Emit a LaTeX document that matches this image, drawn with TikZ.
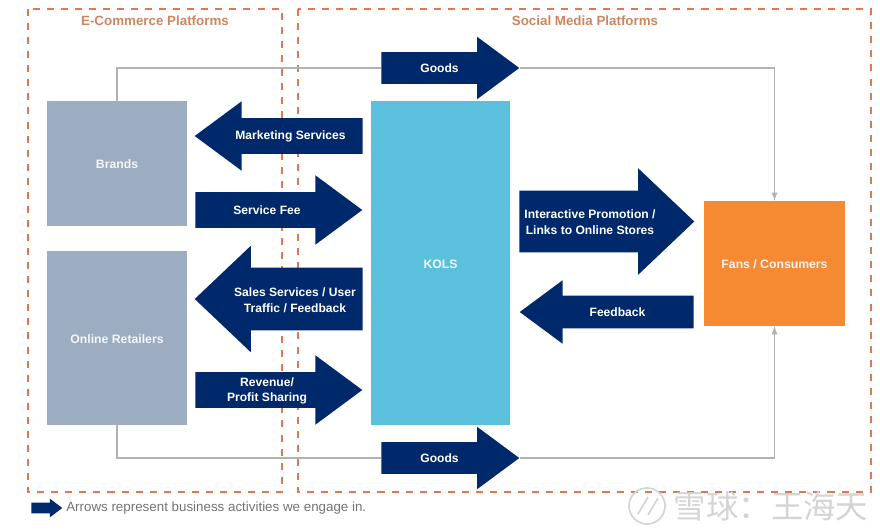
\documentclass[tikz,border=0pt]{standalone}
\usepackage{fontspec}
\setmainfont{Liberation Sans}
\newfontfamily\cjkfont{Noto Sans CJK SC}
\usetikzlibrary{shapes.arrows}

\definecolor{navy}{HTML}{00296B}
\definecolor{slate}{HTML}{9DADC1}
\definecolor{sky}{HTML}{5BC0DB}
\definecolor{amber}{HTML}{F58A32}
\definecolor{rust}{HTML}{DB7A50}
\definecolor{rusttext}{HTML}{CF8560}
\definecolor{wire}{HTML}{B2B2B2}
\definecolor{stamp}{HTML}{D4D4D4}

\tikzset{
  % length, shaft, head extend, tip angle
  bizarrow/.style n args={4}{single arrow, fill=navy, inner sep=0pt,
    minimum height=#1*0.025cm, text height=#2*0.025cm, text depth=0pt,
    single arrow head extend=#3*0.025cm, single arrow tip angle=#4},
  bizlabel/.style={text=white, font=\fontsize{8.6}{11}\selectfont\bfseries, align=center, inner sep=0pt},
  party/.style={font=\fontsize{8.7}{10}\selectfont\bfseries, text=white!88!slate, inner sep=0pt},
  platform/.style={draw=rust, line width=1.5pt, dash pattern=on 5pt off 5pt},
  platformtitle/.style={text=rusttext, font=\fontsize{9.5}{11}\selectfont\bfseries, inner sep=0pt},
  goodsline/.style={draw=wire, line width=1pt}
}

\begin{document}
\begin{tikzpicture}[x=0.025cm,y=-0.025cm]
  \useasboundingbox (0,0) rectangle (880,529);

  % platform frames
  \draw[platform] (28,9) rectangle (282,492);
  \draw[platform] (298,9) rectangle (871,492);
  \node (ecommerce) at (155,21) [platformtitle] {E-Commerce Platforms};
  \node (social)    at (585,21) [platformtitle] {Social Media Platforms};

  % parties
  \node (brands)   at (117,163.5) [fill=slate, minimum width=3.5cm, minimum height=3.125cm, inner sep=0pt] {};
  \node (retailers) at (117,338)  [fill=slate, minimum width=3.5cm, minimum height=4.35cm, inner sep=0pt] {};
  \node (kols)     at (440.5,263) [fill=sky, minimum width=3.475cm, minimum height=8.1cm, inner sep=0pt] {};
  \node (fans)     at (774.5,263.5) [fill=amber, minimum width=3.525cm, minimum height=3.125cm, inner sep=0pt] {};
  \node at (117,164)     [party] {Brands};
  \node at (117,339)     [party] {Online Retailers};
  \node at (440.5,264)   [party] {KOLS};
  \node at (774.5,264)   [party] {Fans / Consumers};

  % activity arrows
  \node (goodstop)  at (381,68)  [bizarrow={138}{31}{15.5}{73}, anchor=tail] {};
  \node (marketing) at (363,136) [bizarrow={168}{35}{17}{73}, shape border rotate=180, anchor=tail] {};
  \node (fee)       at (195,210) [bizarrow={167}{35}{17}{73}, anchor=tail] {};
  \node (sales)     at (363,299) [bizarrow={168}{62}{22}{87}, shape border rotate=180, anchor=tail] {};
  \node (revenue)   at (195,390) [bizarrow={167}{35}{17}{73}, anchor=tail] {};
  \node (promotion) at (519,221.5) [bizarrow={175}{61}{22.5}{87}, anchor=tail] {};
  \node (feedback)  at (694,312) [bizarrow={174}{32}{15.5}{73}, shape border rotate=180, anchor=tail] {};
  \node (goodsdown) at (381,458) [bizarrow={138}{31}{15.5}{73}, anchor=tail] {};
  \node (legend)    at (31,508)  [bizarrow={31}{10}{4}{74}, anchor=tail] {};

  \node (goodstoptext)  at (439.5,68)  [bizlabel] {Goods};
  \node (marketingtext) at (290.5,136.5) [bizlabel] {Marketing Services};
  \node (feetext)       at (267,210.5)  [bizlabel] {Service Fee};
  \node (salestext)     at (295,300)   [bizlabel] {Sales Services / User\\Traffic / Feedback};
  \node (revenuetext)   at (267,391)   [bizlabel] {Revenue/\\Profit Sharing};
  \node (promotiontext) at (590,222)   [bizlabel] {Interactive Promotion /\\Links to Online Stores};
  \node (feedbacktext)  at (617.5,312) [bizlabel] {Feedback};
  \node (goodsdowntext) at (439.5,458) [bizlabel] {Goods};
  \node (legendtext)    at (66,508) [anchor=west, inner sep=0pt, text=black!55, font=\fontsize{9.5}{11}\selectfont]
    {Arrows represent business activities we engage in.};

  % goods flow
  \draw[goodsline] (brands.north) |- (goodstop.tail);
  \draw[goodsline,-latex] (goodstop.tip) -| (fans.north);
  \draw[goodsline] (retailers.south) |- (goodsdown.tail);
  \draw[goodsline,-latex] (goodsdown.tip) -| (fans.south);

  % stamp in the corner
  \node (stampmark) at (647,506) [draw=stamp, circle, line width=1.2pt, minimum size=0.9cm, inner sep=0pt] {};
  \draw[stamp, line width=1.2pt] (638,514) -- (648,497) (648,515) -- (658,498);
  \node (stamptext) at (771,506) [text=stamp, inner sep=0pt, font=\cjkfont\fontsize{23}{23}\selectfont] {雪球：王海天};
\end{tikzpicture}
\end{document}
